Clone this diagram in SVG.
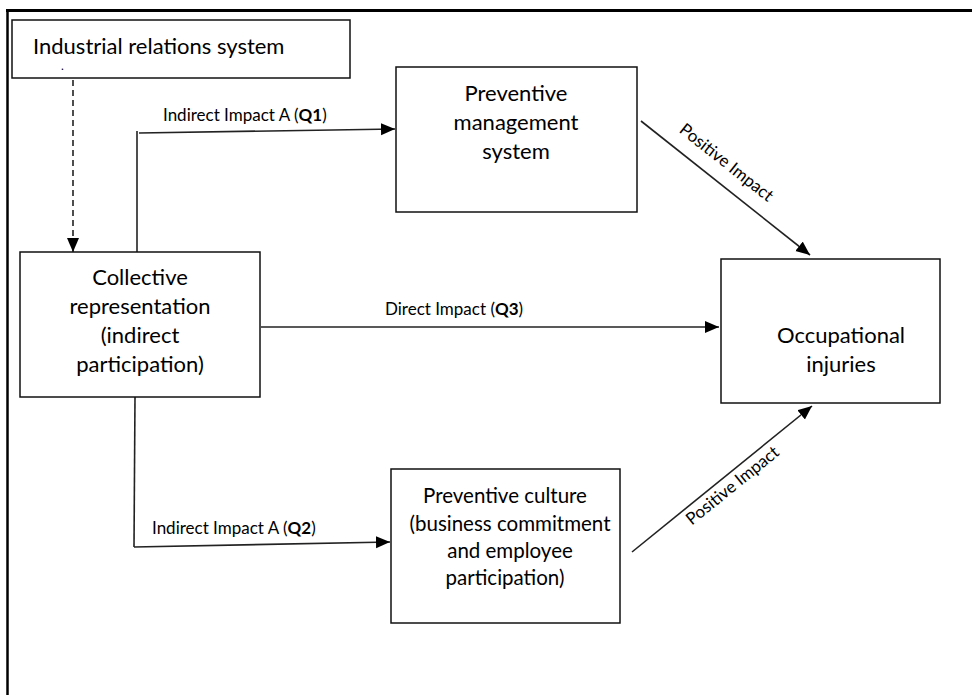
<svg xmlns="http://www.w3.org/2000/svg" width="972" height="695" viewBox="0 0 972 695">
  <defs>
    <marker id="arrow" markerUnits="userSpaceOnUse" markerWidth="16" markerHeight="14" refX="14" refY="6" orient="auto">
      <path d="M0,0 L14,6 L0,12 z" fill="#000"/>
    </marker>
    <style>
      .box { fill: #fff; stroke: #111; stroke-width: 1.5; }
      .node { font-family: Lato, "Liberation Sans", sans-serif; font-size: 22px; fill: #000; text-anchor: middle; }
      .small { font-size: 20.5px; }
      .lbl { font-family: Lato, "Liberation Sans", sans-serif; font-size: 17px; fill: #000; }
      .conn { fill: none; stroke: #222; stroke-width: 1.6; }
      .frame { stroke: #000; fill: none; }
    </style>
  </defs>
  <rect width="972" height="695" fill="#fff"/>
  <!-- outer frame (top and left only) -->
  <line class="frame" x1="6" y1="10.5" x2="972" y2="10.5" stroke-width="3"/>
  <line class="frame" x1="7.5" y1="9" x2="7.5" y2="695" stroke-width="2.5"/>

  <g id="connectors">
    <!-- dashed: industrial -> collective -->
    <line class="conn" x1="73" y1="80" x2="73" y2="252" stroke-dasharray="6,4" marker-end="url(#arrow)"/>
    <!-- Q1 -->
    <polyline class="conn" points="137,253 137,131"/>
    <line class="conn" x1="139" y1="133" x2="395" y2="129" marker-end="url(#arrow)"/>
    <text class="lbl" x="163" y="121">Indirect Impact A (<tspan font-weight="bold">Q1</tspan>)</text>
    <!-- Q3 -->
    <line class="conn" x1="261" y1="327" x2="719" y2="327" marker-end="url(#arrow)"/>
    <text class="lbl" x="385" y="315">Direct Impact (<tspan font-weight="bold">Q3</tspan>)</text>
    <!-- Q2 -->
    <polyline class="conn" points="135,397 134,547"/>
    <line class="conn" x1="134" y1="547" x2="390" y2="542" marker-end="url(#arrow)"/>
    <text class="lbl" x="152" y="534">Indirect Impact A (<tspan font-weight="bold">Q2</tspan>)</text>
    <!-- Positive impact 1 -->
    <line class="conn" x1="641" y1="121" x2="810" y2="255" marker-end="url(#arrow)"/>
    <text class="lbl" text-anchor="middle" transform="translate(723,167) rotate(38.4)">Positive Impact</text>
    <!-- Positive impact 2 -->
    <line class="conn" x1="632" y1="552" x2="812" y2="406" marker-end="url(#arrow)"/>
    <text class="lbl" text-anchor="middle" transform="translate(736,490) rotate(-38.9)">Positive Impact</text>
  </g>

  <g id="industrial">
    <rect class="box" x="12" y="20" width="338" height="58"/>
    <text class="node" x="33" y="54" style="text-anchor:start">Industrial relations system</text>
    <text x="61" y="70" font-family="Lato, sans-serif" font-size="12">.</text>
  </g>

  <g id="collective">
    <rect class="box" x="20" y="252" width="240" height="145"/>
    <text class="node" x="140" y="285">Collective</text>
    <text class="node" x="140" y="314">representation</text>
    <text class="node" x="140" y="343">(indirect</text>
    <text class="node" x="140" y="372">participation)</text>
  </g>

  <g id="management">
    <rect class="box" x="396" y="67" width="241" height="145"/>
    <text class="node" x="516" y="101">Preventive</text>
    <text class="node" x="516" y="130">management</text>
    <text class="node" x="516" y="159">system</text>
  </g>

  <g id="injuries">
    <rect class="box" x="721" y="259" width="219" height="144"/>
    <text class="node" x="841" y="343">Occupational</text>
    <text class="node" x="841" y="372">injuries</text>
  </g>

  <g id="culture">
    <rect class="box" x="391" y="469" width="229" height="154"/>
    <text class="node small" x="505" y="503">Preventive culture</text>
    <text class="node small" x="510" y="530.5">(business commitment</text>
    <text class="node small" x="510" y="558">and employee</text>
    <text class="node small" x="505" y="585">participation)</text>
  </g>
</svg>
